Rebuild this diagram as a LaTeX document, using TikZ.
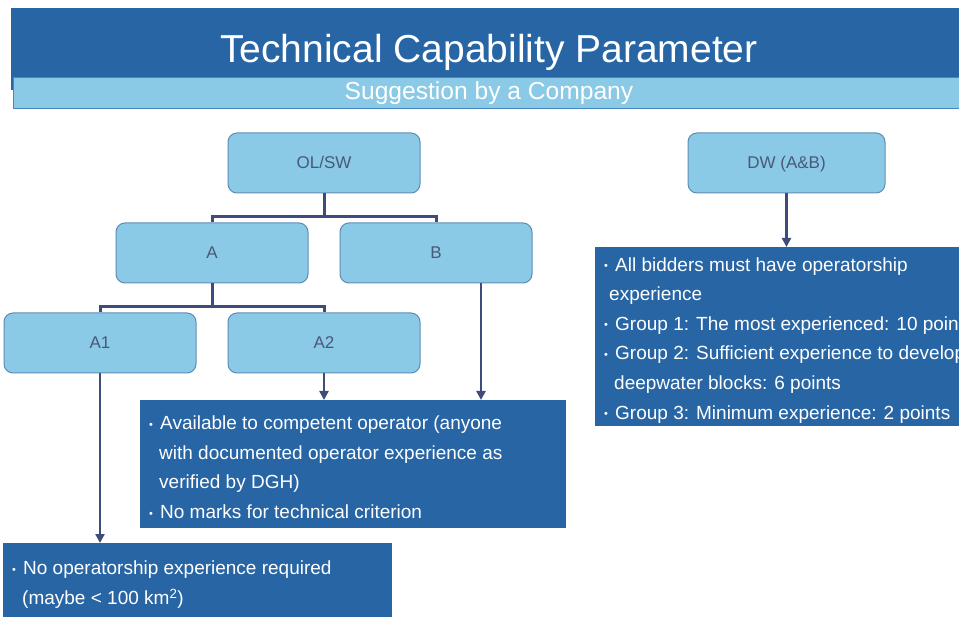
\documentclass[tikz,border=0pt]{standalone}
\usepackage{fontspec}
\setmainfont{Liberation Sans}
\usetikzlibrary{arrows.meta}

\definecolor{bandblue}{HTML}{2865A4}
\definecolor{paleblue}{HTML}{8ACAE6}
\definecolor{paleedge}{HTML}{5F8CB5}
\definecolor{linkblue}{HTML}{3E4C7C}
\definecolor{labelgray}{HTML}{4A5878}
\definecolor{bandedge}{HTML}{4A86C0}

% small white bullet followed by the text indent
\newcommand{\bul}{\rule{0pt}{15pt}\makebox[11pt][l]{\raisebox{1.5pt}{\fontsize{11}{11}\selectfont •}}}

\begin{document}
\begin{tikzpicture}[x=1pt,y=-1pt,
  pale/.style={draw=paleedge, line width=1pt, fill=paleblue, rounded corners=9pt,
    minimum width=192pt, minimum height=60pt, inner sep=0pt, text=labelgray,
    text height=12pt, text depth=0pt, font=\fontsize{17}{17}\selectfont},
  panel/.style={fill=bandblue, inner sep=0pt, outer sep=0pt, anchor=north west},
  link/.style={draw=linkblue, line width=3pt},
  arrowlink/.style={draw=linkblue, line width=2.6pt, -{Triangle[length=9pt,width=9pt]}},
  bullets/.style={anchor=north west, inner sep=0pt, text=white, align=left,
    font=\fontsize{19}{29.6}\selectfont}]

\useasboundingbox (0,0) rectangle (959,617);
\clip (0,0) rectangle (959,617);
\fill[white] (0,0) rectangle (959,617);

% title band
\fill[bandblue] (11,8) rectangle (959,77);
\fill[bandblue] (11,77) rectangle (13,90);
\filldraw[fill=paleblue, draw=bandedge, line width=0.8pt] (13,77.4) rectangle (961,108);
\node[text=white, anchor=base, inner sep=0pt, font=\fontsize{39}{39}\selectfont] (title) at (489,63) {Technical Capability Parameter};
\node[text=white, anchor=base, inner sep=0pt, font=\fontsize{24.6}{24.6}\selectfont] (subtitle) at (489,100) {Suggestion by a Company};

% tree boxes
\node[pale] (ol) at (324,163) {OL/SW};
\node[pale] (a)  at (212,253) {A};
\node[pale] (b)  at (436,253) {B};
\node[pale] (a1) at (100,343) {A1};
\node[pale] (a2) at (324,343) {A2};
\node[pale, minimum width=197pt] (dw) at (786.5,163) {DW (A\&B)};

% tree connectors
\coordinate (j1) at (324,217);
\coordinate (j2) at (212,307);
\draw[link] (ol.south) -- (j1);
\draw[link] (a.north) |- (j1) -| (b.north);
\draw[link] (a.south) -- (j2);
\draw[link] (a1.north) |- (j2) -| (a2.north);

% result panels
\node[panel, minimum width=426pt, minimum height=128pt] (pan2) at (140,400) {};
\node[panel, minimum width=389pt, minimum height=90pt] (pan3) at (3,543) {};
\node[panel, minimum width=380pt, minimum height=179pt] (pan4) at (595,247) {};

% arrows into the panels
\coordinate (bfoot) at ([xshift=45pt]b.south);
\draw[arrowlink] (a1.south) -- (a1.south |- pan3.north);
\draw[arrowlink] (a2.south) -- (a2.south |- pan2.north);
\draw[arrowlink] (bfoot) -- (bfoot |- pan2.north);
\draw[arrowlink] (dw.south) -- (dw.south |- pan4.north);

% panel texts
\node[bullets] (t4) at (604,256) {%
\bul All bidders must have operatorship\\
\hspace*{5pt}experience\\
\bul Group 1: The most experienced: 10 points\\
\bul Group 2: Sufficient experience to develop\\
\hspace*{10pt}deepwater blocks: 6 points\\
\bul Group 3: Minimum experience: 2 points};

\node[bullets] (t2) at (149,414.5) {%
\bul Available to competent operator (anyone\\
\hspace*{10pt}with documented operator experience as\\
\hspace*{10pt}verified by DGH)\\
\bul No marks for technical criterion};

\node[bullets] (t3) at (12,559.5) {%
\bul No operatorship experience required\\
\hspace*{10pt}(maybe < 100 km\textsuperscript{2})};

\end{tikzpicture}
\end{document}
